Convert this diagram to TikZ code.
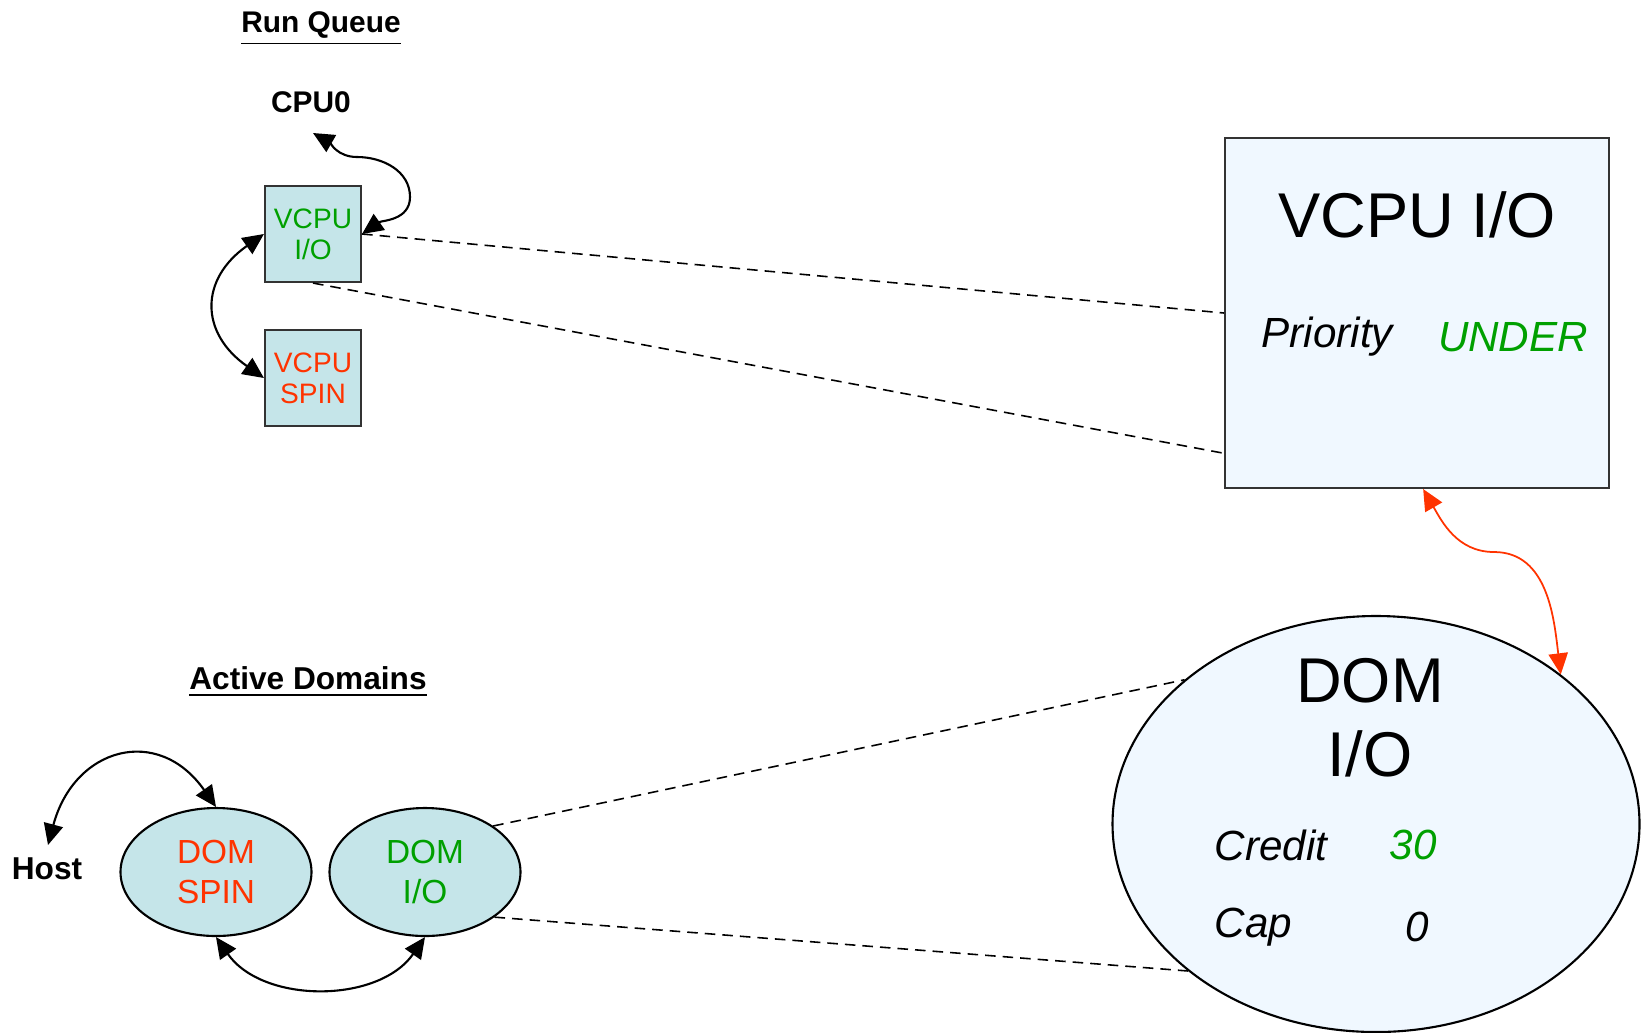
\documentclass[tikz,border=0pt]{standalone}
\usepackage{fontspec}
\setmainfont{Liberation Sans}
\usetikzlibrary{shapes.geometric,arrows.meta}
\definecolor{iogreen}{RGB}{0,160,0}
\definecolor{spinred}{RGB}{255,51,0}
\definecolor{qfill}{RGB}{197,229,233}
\definecolor{bigfill}{RGB}{240,248,255}

\begin{document}
\begin{tikzpicture}
\tikzstyle{head} = [font=\bfseries\fontsize{8.5}{10}\selectfont]
\tikzstyle{vcpu} = [draw=black!80, fill=qfill, line width=0.6pt, minimum size=0.96cm, inner sep=0pt, align=center, font=\fontsize{8}{8.8}\selectfont]
\tikzstyle{dom} = [ellipse, draw, fill=qfill, line width=0.6pt, minimum width=1.91cm, minimum height=1.28cm, inner sep=0pt, align=center, font=\fontsize{9.5}{11.3}\selectfont]
\tikzstyle{arr} = [{Triangle[length=6pt,width=5.5pt]}-{Triangle[length=6pt,width=5.5pt]}, line width=0.6pt]
\tikzstyle{link} = [dash pattern=on 3pt off 2pt, line width=0.45pt]
\tikzstyle{big} = [font=\fontsize{18}{21}\selectfont, align=center]
\tikzstyle{field} = [font=\itshape\fontsize{12}{14}\selectfont, inner sep=0pt]

\useasboundingbox (0,0) rectangle (16.46,10.32);

\node[head] (runq) at (3.21,10.03) {\underline{Run Queue}};
\node[head] (cpu) at (3.11,9.30) {CPU0};
\coordinate (cputip) at (3.13,8.99);
\node[vcpu, text=iogreen] (vio) at (3.13,7.98) {VCPU\\I/O};
\node[vcpu, text=spinred] (vspin) at (3.13,6.54) {VCPU\\SPIN};

\node[draw=black!80, fill=bigfill, line width=0.6pt, minimum width=3.84cm, minimum height=3.50cm] (vbig) at (14.17,7.19) {};
\node[big] (vname) at (14.17,8.17) {VCPU I/O};
\node[field, anchor=west] (prio) at (12.61,6.95) {Priority};
\node[field, text=iogreen] (under) at (15.13,6.95) {UNDER};

\node[head, font=\bfseries\fontsize{9}{10}\selectfont] (actd) at (3.08,3.50) {\underline{Active Domains}};
\node[head, font=\bfseries\fontsize{9}{10}\selectfont] (host) at (0.47,1.63) {Host};
\coordinate (hosttip) at (0.48,1.87);
\node[dom, text=spinred] (dspin) at (2.16,1.60) {DOM\\SPIN};
\node[dom, text=iogreen] (dio) at (4.25,1.60) {DOM\\I/O};

\node[ellipse, draw, fill=bigfill, line width=0.6pt, minimum width=5.27cm, minimum height=4.16cm, inner sep=0pt] (dbig) at (13.76,2.08) {};
\node[big] (dname) at (13.70,3.14) {DOM\\I/O};
\node[field, anchor=west] (credit) at (12.14,1.87) {Credit};
\node[field, text=iogreen] (cval) at (14.13,1.87) {30};
\node[field, anchor=west] (cap) at (12.14,1.05) {Cap};
\node[field] (capval) at (14.17,1.05) {0};

\draw[arr] (cputip) to[out=-30,in=180] (3.57,8.75) to[out=0,in=90] (4.10,8.35) to[out=-90,in=35] (vio.east);
\draw[arr] (vio.west) to[out=215,in=145,looseness=1.4] (vspin.west);
\draw[arr] (hosttip) to[out=75,in=125,looseness=1.5] (dspin.north);
\draw[arr] (dspin.south) to[out=-55,in=-125] (dio.south);
\draw[arr, spinred, line width=0.5pt] (vbig.-88) to[out=-60,in=180] (14.94,4.80) to[out=0,in=97] (dbig.39);

\draw[link] (vio.east) -- (vbig.west);
\draw[link] (vio.south) -- (vbig.216);
\draw[link] (dio.34) -- (dbig.143);
\draw[link] (dio.-33) -- (dbig.218);

\end{tikzpicture}
\end{document}
